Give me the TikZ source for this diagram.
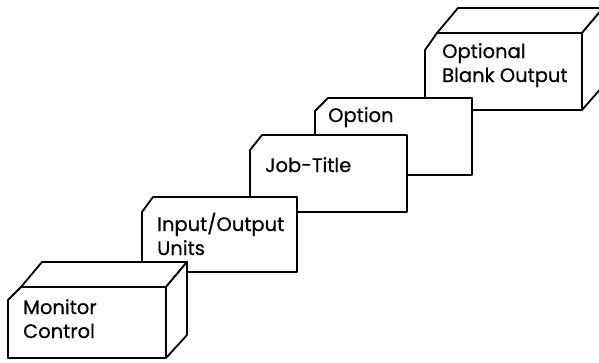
\documentclass[tikz,border=0pt]{standalone}
\usepackage{fontspec}
\setsansfont{Poppins}[FakeBold=0.6]
\usepackage{tikz}

\begin{document}
\begin{tikzpicture}[x=1pt,y=-1pt,
deckface/.style={draw,fill=white,line width=1.8pt,line join=round},
cardtext/.style={anchor=base west,align=left,inner sep=0pt}]
\tikzstyle{every node}=[font=\sffamily\fontsize{19.5}{24}\selectfont]
    \clip (0,0) rectangle (599,362);

    % top deck first, the cards in front hide it
    \draw[deckface] (425,50) -- (437,33) -- (582,33) -- (582,110) -- (425,110) -- cycle;
    \draw[deckface] (437,33) -- (458,8) -- (603,8) -- (582,33) -- cycle;
    \draw[deckface] (582,33) -- (603,8) -- (603,86) -- (582,110) -- cycle;
    \node (blank) [cardtext] at (442,82) {Optional\\Blank Output};

    % single cards
    \draw[deckface] (315,111) -- (328,98) -- (472,98) -- (472,175) -- (315,175) -- cycle;
    \node (option) [cardtext] at (328,122) {Option};
    \draw[deckface] (250,150) -- (262,135) -- (407,135) -- (407,212) -- (250,212) -- cycle;
    \node (jobtitle) [cardtext] at (265,172) {Job-Title};
    \draw[deckface] (142,212) -- (153,197) -- (297,197) -- (297,272) -- (142,272) -- cycle;
    \node (inout) [cardtext] at (157,255) {Input/Output\\Units};

    % bottom deck
    \draw[deckface] (8,300) -- (21,287) -- (166,287) -- (166,358) -- (8,358) -- cycle;
    \draw[deckface] (21,287) -- (42,262) -- (187,262) -- (166,287) -- cycle;
    \draw[deckface] (166,287) -- (187,262) -- (187,335) -- (166,358) -- cycle;
    \node (monitor) [cardtext] at (23,338) {Monitor\\Control};
\end{tikzpicture}
\end{document}
